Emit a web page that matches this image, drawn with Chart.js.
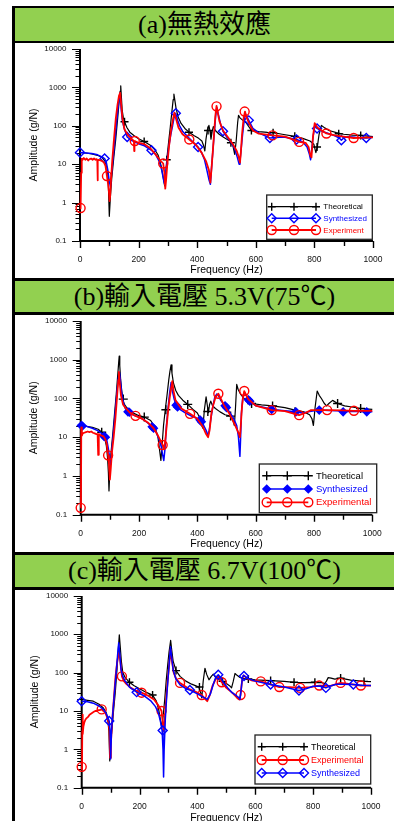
<!DOCTYPE html>
<html><head><meta charset="utf-8">
<script src="https://cdn.jsdelivr.net/npm/chart.js@4.4.0/dist/chart.umd.min.js"></script>
<style>
html,body{margin:0;padding:0;background:#fff;}
body{width:394px;height:821px;overflow:hidden;position:relative;}
.bar{position:absolute;left:15px;width:379px;background:#92d050;display:flex;align-items:center;justify-content:center;font-family:"Liberation Serif","Noto Sans CJK TC",serif;font-size:26px;color:#000;white-space:nowrap;line-height:1;}
.hl{position:absolute;left:12px;width:382px;background:#000;}
.vl{position:absolute;left:12px;top:6px;width:3px;height:815px;background:#000;}
canvas{position:absolute;left:15px;}
</style></head>
<body>
<div class="vl"></div>
<div class="hl" style="top:6px;height:2px"></div>
<div class="bar" style="top:8px;height:33px">(a)無熱效應</div>
<div class="hl" style="top:41px;height:2px"></div>
<canvas id="cA" width="379" height="235" style="top:43px"></canvas>
<div class="hl" style="top:278px;height:3px"></div>
<div class="bar" style="top:281px;height:31px">(b)輸入電壓 5.3V(75℃)</div>
<div class="hl" style="top:312px;height:3px"></div>
<canvas id="cB" width="379" height="237" style="top:315px"></canvas>
<div class="hl" style="top:552px;height:3px"></div>
<div class="bar" style="top:555px;height:32px">(c)輸入電壓 6.7V(100℃)</div>
<div class="hl" style="top:587px;height:3px"></div>
<canvas id="cC" width="379" height="240" style="top:590px"></canvas>
<script>
// ---------- axes ----------
const freqTicks = [0, 200, 400, 600, 800, 1000];
const freqTickLabels = ['0', '200', '400', '600', '800', '1000'];
const ampTicks = [0.1, 1, 10, 100, 1000, 10000];
const ampTickLabels = ['0.1', '1', '10', '100', '1000', '10000'];
const legendA = ['Theoretical', 'Synthesized', 'Experiment'];
const legendB = ['Theoretical', 'Synthesized', 'Experimental'];
const legendC = ['Theoretical', 'Experimental', 'Synthesized'];

// ---------- panel (a) ----------
const aTheoF = [0,20,40,60,75,85,92,96,100,104, 108,115,122,128,133,137,139,141,144,148, 152,160,170,185,200,219,240,255,267,277, 284,289,293,296,302,308,314,318,320.5,323, 328,335,345,358,372,390,405,416,422,426, 430,435,440,444,447,451,455,462,475,490, 511,522,528,533,538,541,546,555,568,585, 610,640,659,690,733,760,785,798,805,810, 816,824,835,850,875,900,930,958,1000];
const aTheoV = [20,19.5,18.5,17,15,12,8,4.5,0.44,1.5, 4,14,45,140,380,800,1100,600,250,160, 127,90,68,55,46,39,31,24,17,9, 4.5,2.7,6,13,35,90,250,480,665,500, 280,170,115,85,68,55,47,40,30,22, 45,80,102,70,45,70,95,75,60,50, 40,30,18,40,120,187,160,140,117,75, 70,67,66,60,53,47,40,33,20,28, 60,102,88,75,66,60,57,56,52];
const aSynF = [0,20,40,60,75,84,90,95,100,104, 107,112,118,124,130,134,137,140,144,150, 161,175,190,205,220,244,258,270,279,285, 289,292,297,303,310,316,322,327,333,340, 350,372,390,403,415,425,433,440,445,449, 453,458,463,467,472,480,488,500,515,528, 537,543,546,550,555,560,565,570,576,590, 610,648,680,700,739,760,775,783,787,791, 796,802,809,825,850,870,885,892,900,915, 940,977,1000];
const aSynV = [20,19.6,19,17.5,15.5,14,11,7,3.5,2.6, 5,12,35,110,300,550,700,300,150,90, 51,42,37,33,30,23,18,12,7,4, 3,5,12,28,60,100,180,210,140,100, 72,48,35,28,20,13,7,4,3,8, 20,60,180,300,200,110,72,52,38,25, 15,10,12,25,60,130,200,170,138,85, 65,48,50,50,44,38,28,18,13,25, 55,100,85,72,62,55,48,42,48,52, 50,48,50];
const aExpF = [0,2,4,6,9,13,18,23,28,33, 38,43,48,53,57,59,60,61,64,70, 76,82,87,92,96,99,101,103,106,110, 116,122,128,133,137,140,145,152,165,180, 184,185,186,190,200,220,240,258,272,284, 288,291,294,298,304,310,316,322,328,336, 350,373,395,415,430,440,445,449,453,458, 462,466,470,476,488,505,522,535,542,546, 549,553,558,563,568,576,590,610,657,700, 748,770,780,786,790,795,801,810,825,841, 870,900,934,970,1000];
const aExpV = [0.72,0.7,6,14,13,14.5,13,14,12.5,13.5, 14,13,14,13,13.5,12.5,3.8,12.5,13,12.5, 12,11,9,4.9,3,1.8,1.1,1.5,4,12, 45,150,350,600,720,400,150,80,55,43, 40,22,40,39,36,33,26,18,13,10.4, 6,2.3,4,10,30,70,130,220,150,90, 60,44,32,20,12,7,3.3,8,20,70, 180,330,220,130,75,50,33,22,15,11, 20,60,150,234,170,120,75,62,56,52, 38,36,28,17,15,50,117,90,75,63, 56,52,48,49,50];
const aTheoMF = [152,219,296,372,437,515,585,659,733,809,883,958];
const aTheoMV = [127,39,13,68,75,36,75,66,53,28,62,56];
const aSynMF = [0,84,161,244,327,403,488,576,648,739,809,892,977];
const aSynMV = [20,14,51,23,210,28,72,138,48,44,85,42,48];
const aExpMF = [2,92,187,284,373,466,562,657,748,841,934];
const aExpMV = [0.72,4.9,40,10.4,44,320,234,56,38,63,48];

// ---------- panel (b) ----------
const bTheoF = [0,20,40,60,72,82,88,92,95,97, 100,104,110,116,122,127,130,132,134,137, 140,144,150,160,175,195,218,240,255,265, 270,275,279,284,290,296,302,306,310,313, 318,326,335,350,367,385,400,410,415,419, 424,430,435,438,442,446,452,462,478,495, 514,522,527,531,535,540,548,560,586,620, 658,700,735,765,785,793,798,804,811,818, 826,835,843,852,864,881,905,930,960,1000];
const bTheoV = [20,19,18,16,13.4,10,6,3,1.2,0.41, 1.5,4,12,40,130,400,800,1230,700,300, 180,96,70,55,44,37,33,27,18,10, 5,2.5,6,20,51,120,300,500,730,450, 250,160,120,90,70,52,42,30,20,17, 50,110,60,43,70,85,65,55,45,38, 35,28,20,60,229,170,130,100,74,68, 64,58,50,45,38,30,20,60,155,120, 98,75,64,75,89,74,64,60,55,52];
const bSynF = [0,20,40,60,75,84,90,95,99,103, 107,113,119,125,130,133,136,140,146,153, 162,170,185,200,220,245,258,268,276,281, 285,289,294,300,305,310,314,320,327,340, 360,380,409,422,430,435,437,440,445,452, 460,467,472,480,495,510,525,535,541,544, 546,548,551,556,562,568,577,600,630,658, 700,738,760,780,800,818,850,880,900,940, 981,1000];
const bSynV = [20,19,17,14.5,12,10,8,5,3,2, 5,15,50,170,380,470,300,150,80,55, 45,40,36,33,27,18.6,14,9,5.8,3.5, 2.5,5,20,60,140,257,160,100,67,52, 42,35,28,20,15,12,11,14,25,55, 110,130,120,90,65,45,30,20,10,5, 3.2,8,40,110,140,120,92,65,58,52, 48,45,42,45,48,50,49,48,45,47, 45,45];
const bExpF = [0,1,2,4,7,12,18,24,30,36, 42,48,54,58,60,62,66,72,78,84, 89,94,97,100,103,107,113,119,125,129, 131,134,138,145,155,170,188,210,230,250, 265,281,286,290,295,300,305,310,314,318, 325,345,375,400,420,430,437,442,448,455, 463,472,480,490,510,530,543,546,549,553, 557,561,568,575,600,655,700,749,770,790, 818,845,900,937,1000];
const bExpV = [0.15,0.3,18,11,12.5,13,13.5,14,13.5,14, 13,12.5,12,12,3.5,12,11.5,11,10.5,9, 7,3.4,2,0.8,1.5,4,10,30,120,300, 480,250,120,70,55,42,35.5,30,24,17, 11,6.3,5,8,20,50,100,180,280,160, 90,55,40,30,18,12,10,15,40,70, 110,132,100,70,40,20,12,10,20,60, 110,155,120,95,65,50,47,37,42,50, 50,50,49,48,48];
const bTheoMF = [72,146,218,292,367,436,514,586,658,735,881,960];
const bTheoMV = [13.4,96,33,51,70,46,35,74,64,45,74,55];
const bSynMF = [2,6,80,85,162,167,245,250,327,332,409,414,495,500,575,580,655,738,818,900,981];
const bSynMV = [20,19.5,10.5,10,45,44,18.6,17,67,60,28,25,65,58,92,85,52,45,50,45,45];
const bExpMF = [0,94,188,281,375,472,561,655,749,845,937];
const bExpMV = [0.15,3.4,35.5,6.3,40,132,155,50,37,50,48];

// ---------- panel (c) ----------
const cTheoF = [0,20,40,60,75,85,90,94,97,100, 104,110,116,122,126,130,133,137,142,150, 165,180,200,225,245,258,266,272,277,282, 287,292,297,302,307.5,311,316,326,340,360, 380,395,405,411,415,420,426,432,440,448, 455,463,475,487,500,512,518,524,530,537, 547,560,576,600,653,700,734,770,806,830, 840,846,852,862,875,895,930,976,1000];
const cTheoV = [20,19,18,15,12,9,6,3,0.5,1.5, 3,10,30,120,350,970,500,200,100,75, 56,46,38,30,26,18,11,6,3.7,8, 20,60,150,350,690,400,200,113,80,60, 50,45,42,30,22,60,130,90,65,80, 91,75,65,59,52,45,40,60,95,85, 75,70,68,65,62,59,56,55,56,55, 52,60,74,72,68,72,64,59,58];
const cSynF = [0,20,40,60,75,85,91,95,98,100, 103,108,114,120,125,128,131,136,142,150, 165,190,215,240,255,265,273,278,281,283, 285,289,294,299,304,307,310,316,325,340, 360,374,400,420,434,445,455,463,472,480, 490,505,520,535,544,547,551,555,559,565, 575,600,653,700,751,775,800,825,844,860, 880,900,939,970,1000];
const cSynV = [18,17.5,16,13.5,11,8.5,6.5,5.5,3,0.56, 3,10,35,120,350,600,350,120,80,60, 42,31,25,18,13,9,5,3.1,1,0.19, 1,6,25,80,250,470,300,120,70,48, 38,35,28,23,20,28,50,75,88,75, 55,40,30,25,22,20,35,70,85,80, 70,60,49,42,34,38,44,45,40,45, 50,50,49,47,46];
const cExpF = [0,1,2,3,4,6,9,13,17,22, 27,32,37,42,47,52,57,62,69,75, 81,86,90,93,96,98,101,105,111,117, 123,128,132,139,146,155,170,190,207,230, 250,265,276,280,283,287,292,297,302,307, 312,318,328,340,370,400,415,428,434,442, 452,462,472,484,500,520,538,545,549,553, 556,560,570,590,619,650,683,720,755,790, 821,860,895,930,965,1000];
const cExpV = [0.35,0.3,3,8,2.5,4,5,6,6.5,7, 8,8.5,9,9.5,10,10,10.5,10.5,11,10, 9,7.5,6,5,3,0.6,1.5,5,20,80, 200,320,250,80,60,50,40,33,30,25, 20,14,10,5,3,6,20,60,150,400, 200,100,65,54,38,30,26,20,18,25, 45,65,80,56,40,30,22,20,26,50, 75,85,72,62,59,50,42,42,40,42, 46,45,54,50,46,46];
const cTheoMF = [165,245,326,407,487,576,653,734,806,895,976];
const cTheoMV = [56,26,113,42,59,68,62,56,56,72,59];
const cExpMF = [0,69,139,207,276,340,415,484,549,619,683,755,821,895,965];
const cExpMV = [0.35,11,80,30,10,54,26,56,26,59,42,40,46,54,46];
const cSynMF = [0,95,190,280,374,472,561,653,751,844,939];
const cSynMV = [18,5.5,31,3.1,35,88,82,49,34,40,49];

// ---------- styling ----------
const STY = {
  theo: { color: '#000000', width: 1.2, marker: 'cross' },
  syn:  { color: '#0000ff', width: 1.5, marker: 'rectRot' },
  exp:  { color: '#ff0000', width: 1.8, marker: 'circle' }
};
const FONT = '"Liberation Sans", Arial, sans-serif';
Chart.defaults.font.family = FONT;

function pts(F, V) { return F.map((f, i) => ({ x: f, y: V[i] })); }

const PANELS = [
  { id: 'cA', names: legendA, synFilled: false, r: { theo: 4, syn: 4.5, exp: 4.5 },
    geo: { W: 379, H: 235, left: 65, right: 358, top: 3.7, bottom: 198, xTitleY: 227, yTitleX: 18.7 },
    series: [ { key: 'theo', F: aTheoF, V: aTheoV, MF: aTheoMF, MV: aTheoMV },
              { key: 'syn', F: aSynF, V: aSynV, MF: aSynMF, MV: aSynMV },
              { key: 'exp', F: aExpF, V: aExpV, MF: aExpMF, MV: aExpMV } ],
    legend: { box: [251.7, 152, 105.6, 44.3], rows: [163.7, 175.3, 187], mx: [256.7, 279, 301], tx: 308.3, font: 8 } },
  { id: 'cB', names: legendB, synFilled: true, r: { theo: 4.5, syn: 3.8, exp: 4.5 },
    geo: { W: 379, H: 237, left: 65.7, right: 357.3, top: 4.3, bottom: 199.7, xTitleY: 229, yTitleX: 19.3 },
    series: [ { key: 'theo', F: bTheoF, V: bTheoV, MF: bTheoMF, MV: bTheoMV },
              { key: 'syn', F: bSynF, V: bSynV, MF: bSynMF, MV: bSynMV },
              { key: 'exp', F: bExpF, V: bExpV, MF: bExpMF, MV: bExpMV } ],
    legend: { box: [244.3, 149, 117.4, 48.7], rows: [160.7, 174, 187.3], mx: [251.7, 272.3, 293.3], tx: 301, font: 9.5 } },
  { id: 'cC', names: legendC, synFilled: false, r: { theo: 4, syn: 4.5, exp: 4.5 },
    geo: { W: 379, H: 240, left: 66.7, right: 356, top: 3.3, bottom: 197.7, xTitleY: 227.7, yTitleX: 20 },
    series: [ { key: 'theo', F: cTheoF, V: cTheoV, MF: cTheoMF, MV: cTheoMV },
              { key: 'exp', F: cExpF, V: cExpV, MF: cExpMF, MV: cExpMV },
              { key: 'syn', F: cSynF, V: cSynV, MF: cSynMF, MV: cSynMV } ],
    legend: { box: [240, 145, 115.7, 49], rows: [156.7, 170, 183], mx: [246.7, 267.7, 289], tx: 296, font: 9 } }
];

function drawMarker(ctx, style, x, y, r, color, filled, lw) {
  ctx.save();
  ctx.strokeStyle = color; ctx.fillStyle = color; ctx.lineWidth = lw;
  ctx.beginPath();
  if (style === 'cross') {
    ctx.moveTo(x - r, y); ctx.lineTo(x + r, y); ctx.moveTo(x, y - r); ctx.lineTo(x, y + r); ctx.stroke();
  } else if (style === 'rectRot') {
    ctx.moveTo(x, y - r); ctx.lineTo(x + r, y); ctx.lineTo(x, y + r); ctx.lineTo(x - r, y); ctx.closePath();
    if (filled) ctx.fill(); ctx.stroke();
  } else {
    ctx.arc(x, y, r, 0, Math.PI * 2); if (filled) ctx.fill(); ctx.stroke();
  }
  ctx.restore();
}

const axesPlugin = {
  id: 'originAxes',
  beforeDatasetsDraw(chart) {
    const { ctx, chartArea: a, scales: { x, y } } = chart;
    ctx.save();
    ctx.strokeStyle = '#000';
    ctx.lineWidth = 2;
    ctx.beginPath();
    ctx.moveTo(a.left, a.top); ctx.lineTo(a.left, a.bottom + 1);
    ctx.moveTo(a.left - 1, a.bottom); ctx.lineTo(a.right, a.bottom);
    ctx.stroke();
    ctx.lineWidth = 1.1;
    ctx.beginPath();
    for (let p = -1; p <= 4; p++) {
      const base = Math.pow(10, p);
      const py = Math.round(y.getPixelForValue(base)) + 0.5;
      ctx.moveTo(a.left - 8, py); ctx.lineTo(a.left, py);
      if (p < 4) {
        for (let k = 2; k <= 9; k++) {
          const yy = Math.round(y.getPixelForValue(k * base)) + 0.5;
          ctx.moveTo(a.left - 4.5, yy); ctx.lineTo(a.left, yy);
        }
      }
    }
    ctx.stroke();
    ctx.lineWidth = 1.4;
    ctx.beginPath();
    for (let f = 0; f <= 1000; f += 100) {
      const px = Math.round(x.getPixelForValue(f)) + 0.5;
      const len = (f % 200 === 0) ? 7 : 5;
      ctx.moveTo(px, a.bottom); ctx.lineTo(px, a.bottom + len);
    }
    ctx.stroke();
    ctx.restore();
  }
};

function makeChart(P) {
  const g = P.geo;
  const datasets = [];
  P.series.forEach((s, i) => {
    const st = STY[s.key];
    const filled = s.key === 'syn' && P.synFilled;
    datasets.push({
      label: P.names[i], data: pts(s.F, s.V), showLine: true,
      borderColor: st.color, borderWidth: st.width, pointRadius: 0, tension: 0,
      borderJoinStyle: 'round', fill: false, clip: false, order: (3 - i) * 2
    });
    datasets.push({
      label: P.names[i] + ' markers', data: pts(s.MF, s.MV), showLine: false,
      pointStyle: st.marker, pointRadius: P.r[s.key], pointBorderWidth: 1.4,
      pointBorderColor: st.color, pointBackgroundColor: filled ? st.color : 'rgba(0,0,0,0)',
      borderColor: st.color, backgroundColor: filled ? st.color : 'rgba(0,0,0,0)',
      clip: false, order: (3 - i) * 2 - 1
    });
  });
  const legendPlugin = {
    id: 'boxLegend',
    afterDraw(chart) {
      const ctx = chart.ctx, L = P.legend;
      ctx.save();
      ctx.fillStyle = '#fff';
      ctx.fillRect(L.box[0], L.box[1], L.box[2], L.box[3]);
      ctx.strokeStyle = '#222'; ctx.lineWidth = 1.3;
      ctx.strokeRect(L.box[0], L.box[1], L.box[2], L.box[3]);
      P.series.forEach((s, i) => {
        const st = STY[s.key];
        const yy = L.rows[i];
        ctx.strokeStyle = st.color; ctx.lineWidth = st.width;
        ctx.beginPath(); ctx.moveTo(L.mx[0], yy); ctx.lineTo(L.mx[2], yy); ctx.stroke();
        const filled = s.key === 'syn' && P.synFilled;
        L.mx.forEach(mx => drawMarker(ctx, st.marker, mx, yy, P.r[s.key], st.color, filled, 1.4));
        ctx.fillStyle = st.color;
        ctx.font = L.font + 'px ' + FONT;
        ctx.textAlign = 'left'; ctx.textBaseline = 'middle';
        ctx.fillText(P.names[i], L.tx, yy + 0.5);
      });
      ctx.restore();
    }
  };
  return new Chart(document.getElementById(P.id), {
    type: 'scatter',
    data: { datasets },
    options: {
      responsive: false, animation: false, devicePixelRatio: 1, events: [],
      layout: { padding: { left: 0, top: g.top, right: g.W - g.right, bottom: 0 } },
      plugins: { legend: { display: false }, tooltip: { enabled: false }, title: { display: false } },
      scales: {
        x: {
          type: 'linear', min: 0, max: 1000,
          afterBuildTicks: (s) => { s.ticks = freqTicks.map(v => ({ value: v })); },
          afterFit: (s) => { s.height = g.H - g.bottom; s.paddingLeft = 0; s.paddingRight = 0; },
          grid: { display: false, drawTicks: false }, border: { display: false },
          ticks: { autoSkip: false, maxRotation: 0, padding: 13.5, color: '#111',
                   font: { size: 8.5 }, callback: (v, i) => freqTickLabels[i] },
          title: { display: true, text: 'Frequency (Hz)', color: '#000', font: { size: 10.5 },
                   padding: { top: 0, bottom: g.H - 6.3 - g.xTitleY } }
        },
        y: {
          type: 'logarithmic', min: 0.1, max: 10000,
          afterBuildTicks: (s) => { s.ticks = ampTicks.map(v => ({ value: v })); },
          afterFit: (s) => { s.width = g.left; s.paddingTop = 0; s.paddingBottom = 0; },
          grid: { display: false, drawTicks: false }, border: { display: false },
          ticks: { autoSkip: false, padding: 13.5, color: '#111',
                   font: { size: 8 }, callback: (v, i) => ampTickLabels[i] },
          title: { display: true, text: 'Amplitude (g/N)', color: '#000', font: { size: 10.5 },
                   padding: { top: g.yTitleX - 6.3, bottom: 0 } }
        }
      }
    },
    plugins: [axesPlugin, legendPlugin]
  });
}

PANELS.forEach(makeChart);
</script>
</body></html>
